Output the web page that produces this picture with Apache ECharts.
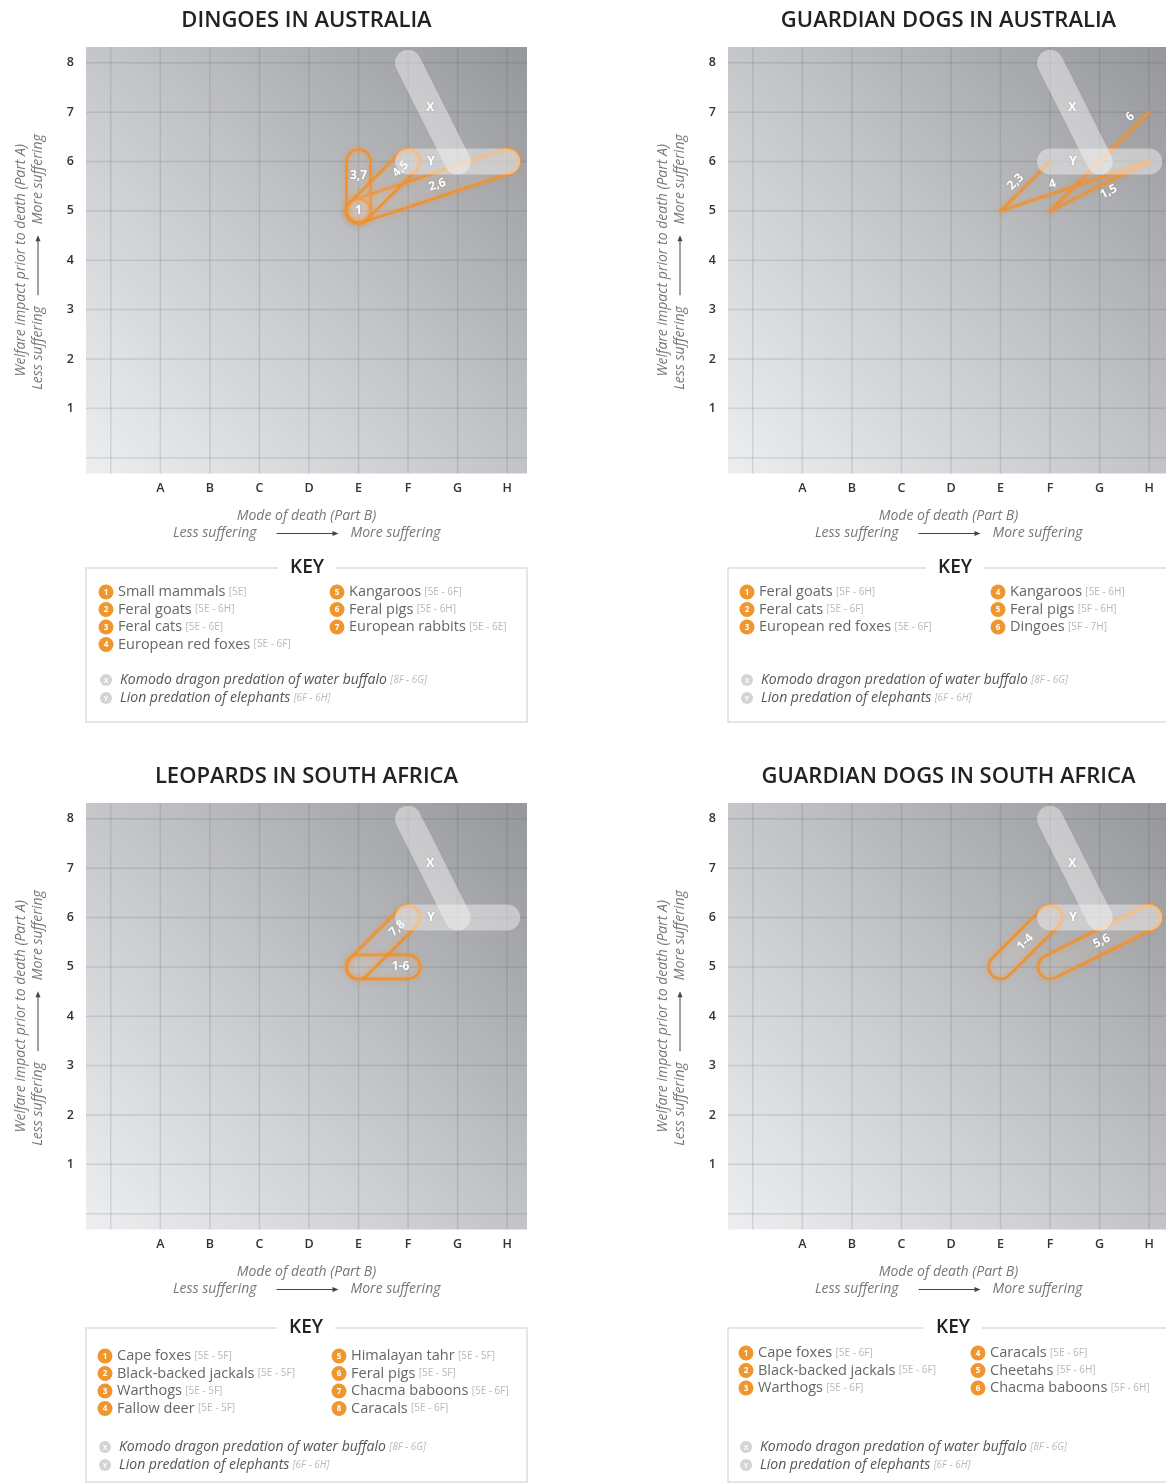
<!DOCTYPE html>
<html><head><meta charset="utf-8">
<script src="https://cdn.jsdelivr.net/npm/echarts@6/dist/echarts.min.js"></script>
<style>html,body{margin:0;padding:0;background:#fff}#c{width:1166px;height:1484px}</style>
</head><body><div id="c"></div>
<script>
// ---------- data ----------
const xLabels = ['A', 'B', 'C', 'D', 'E', 'F', 'G', 'H'];
const yLabels = ['1', '2', '3', '4', '5', '6', '7', '8'];
const gridTicks = [0, 1, 2, 3, 4, 5, 6, 7, 8];
const panelTitles = ['DINGOES IN AUSTRALIA', 'GUARDIAN DOGS IN AUSTRALIA', 'LEOPARDS IN SOUTH AFRICA', 'GUARDIAN DOGS IN SOUTH AFRICA'];

const dingoSpecies = ['Small mammals', 'Feral goats', 'Feral cats', 'European red foxes', 'Kangaroos', 'Feral pigs', 'European rabbits'];
const dingoRanges = ['5E', '5E - 6H', '5E - 6E', '5E - 6F', '5E - 6F', '5E - 6H', '5E - 6E'];

const gdAusSpecies = ['Feral goats', 'Feral cats', 'European red foxes', 'Kangaroos', 'Feral pigs', 'Dingoes'];
const gdAusRanges = ['5F - 6H', '5E - 6F', '5E - 6F', '5E - 6H', '5F - 6H', '5F - 7H'];

const leopardSpecies = ['Cape foxes', 'Black-backed jackals', 'Warthogs', 'Fallow deer', 'Himalayan tahr', 'Feral pigs', 'Chacma baboons', 'Caracals'];
const leopardRanges = ['5E - 5F', '5E - 5F', '5E - 5F', '5E - 5F', '5E - 5F', '5E - 5F', '5E - 6F', '5E - 6F'];

const gdSaSpecies = ['Cape foxes', 'Black-backed jackals', 'Warthogs', 'Caracals', 'Cheetahs', 'Chacma baboons'];
const gdSaRanges = ['5E - 6F', '5E - 6F', '5E - 6F', '5E - 6F', '5F - 6H', '5F - 6H'];

const refCodes = ['X', 'Y'];
const refNames = ['Komodo dragon predation of water buffalo', 'Lion predation of elephants'];
const refRanges = ['8F - 6G', '6F - 6H'];

// ---------- layout / style (not data) ----------
const ORANGE = '#EE9234';
const FONT = '"Open Sans", "Noto Sans", sans-serif';
const panelLayout = [
  { left: 86, top: 47, keyTop: 568, rowTop: 592, col1: 106, col2: 337, refTop: 680, keyX: 307, kind: 'capsule' },
  { left: 728, top: 47, keyTop: 568, rowTop: 592, col1: 747, col2: 998, refTop: 680, keyX: 955, kind: 'line' },
  { left: 86, top: 803, keyTop: 1328, rowTop: 1356, col1: 105, col2: 339, refTop: 1447, keyX: 306, kind: 'capsule' },
  { left: 728, top: 803, keyTop: 1328, rowTop: 1353, col1: 746, col2: 978, refTop: 1447, keyX: 953, kind: 'capsule' }
];
const GW = 441, GH = 426.5;
// label placement along each group segment: [fraction, perpendicular offset px]
const labelPlace = [
  [[0, 0], [0.53, 0], [0.72, 0], [0.85, 0]],
  [[0.55, -9], [0.445, 10], [0.368, 9], [0.88, 10]],
  [[0.85, 0], [0.78, 0]],
  [[0.5, 0], [0.52, 0]]
];
const refPlace = [[0.45, 0], [0.23, 0]];

// ---------- helpers ----------
function parseCode(c) {
  c = c.trim();
  const y = parseInt(c, 10);
  const x = xLabels.indexOf(c.replace(/[0-9]/g, '')) + 1;
  return [x, y];
}
function parseRange(r) {
  const parts = r.split(' - ');
  const a = parseCode(parts[0]);
  const b = parseCode(parts[parts.length - 1]);
  return [a[0], a[1], b[0], b[1]];
}
function groupLabel(nums) {
  let consec = nums.length > 2;
  for (let i = 1; i < nums.length; i++) if (nums[i] !== nums[i - 1] + 1) consec = false;
  return consec ? nums[0] + '-' + nums[nums.length - 1] : nums.join(',');
}
function makeGroups(ranges) {
  const order = [], map = {};
  ranges.forEach((r, i) => {
    if (!map[r]) { map[r] = []; order.push(r); }
    map[r].push(i + 1);
  });
  return order.map(r => ({ range: r, coords: parseRange(r), label: groupLabel(map[r]) }));
}
function capsulePoints(p1, p2, r) {
  const ang = Math.atan2(p2[1] - p1[1], p2[0] - p1[0]);
  const pts = [], n = 18;
  for (let i = 0; i <= n; i++) { const a = ang - Math.PI / 2 + Math.PI * i / n; pts.push([p2[0] + r * Math.cos(a), p2[1] + r * Math.sin(a)]); }
  for (let i = 0; i <= n; i++) { const a = ang + Math.PI / 2 + Math.PI * i / n; pts.push([p1[0] + r * Math.cos(a), p1[1] + r * Math.sin(a)]); }
  return pts;
}
function labelEl(p1, p2, text, place, rotate) {
  const dx = p2[0] - p1[0], dy = p2[1] - p1[1];
  const len = Math.sqrt(dx * dx + dy * dy);
  let x = p1[0] + dx * place[0], y = p1[1] + dy * place[0];
  let rot = 0;
  if (len > 1) {
    x += place[1] * dy / len; y += place[1] * (-dx) / len;
    const ang = Math.atan2(dy, dx);
    if (rotate && Math.abs(Math.abs(ang) - Math.PI / 2) > 0.35) rot = -ang;
  }
  return {
    type: 'text', x: x, y: y, rotation: rot, z2: 10,
    style: { text: text, fill: '#fff', font: 'bold 12px ' + FONT, align: 'center', verticalAlign: 'middle',
      textShadowColor: 'rgba(0,0,0,0.18)', textShadowBlur: 2 }
  };
}

const panelSpecies = [dingoSpecies, gdAusSpecies, leopardSpecies, gdSaSpecies];
const panelRanges = [dingoRanges, gdAusRanges, leopardRanges, gdSaRanges];
const refCoords = refRanges.map(parseRange);

const grids = [], xAxes = [], yAxes = [], series = [], graphics = [];
const nameStyle = { fontStyle: 'italic', color: '#777', fontFamily: FONT, fontSize: 14 };

panelLayout.forEach((L, i) => {
  const groups = makeGroups(panelRanges[i]);
  grids.push({
    left: L.left, top: L.top, width: GW, height: GH, show: true, borderWidth: 0, borderColor: 'transparent',
    outerBoundsMode: 'none', containLabel: false,
    backgroundColor: { type: 'linear', x: 0, y: 1, x2: 1, y2: 0,
      colorStops: [{ offset: 0, color: '#eceef0' }, { offset: 0.5, color: '#c3c5c8' }, { offset: 1, color: '#96979a' }] }
  });
  xAxes.push({
    gridIndex: i, type: 'value', min: -0.5, max: 8.4, splitNumber: 9, minInterval: 1, maxInterval: 1,
    axisLine: { show: false }, axisTick: { show: false }, splitLine: { show: false },
    axisLabel: { margin: 8, color: '#333', fontFamily: FONT, fontWeight: 600, fontSize: 12.5,
      formatter: v => (Number.isInteger(v) && v >= 1 && v <= 8) ? xLabels[v - 1] : '' },
    name: 'Mode of death (Part B)', nameLocation: 'middle', nameGap: 36, nameTextStyle: nameStyle
  });
  yAxes.push({
    gridIndex: i, type: 'value', min: -0.32, max: 8.32, splitNumber: 9, minInterval: 1, maxInterval: 1,
    axisLine: { show: false }, axisTick: { show: false }, splitLine: { show: false },
    axisLabel: { margin: 12, color: '#333', fontFamily: FONT, fontWeight: 600, fontSize: 12.5,
      formatter: v => (Number.isInteger(v) && v >= 1 && v <= 8) ? yLabels[v - 1] : '' },
    name: 'Welfare impact prior to death (Part A)', nameLocation: 'middle', nameGap: 58, nameRotate: 90,
    nameTextStyle: nameStyle
  });

  // grid lines
  series.push({
    type: 'custom', xAxisIndex: i, yAxisIndex: i, silent: true, z: 1,
    data: gridTicks.map(t => [t]),
    renderItem: (params, api) => {
      const t = api.value(0), cs = params.coordSys;
      const px = api.coord([t, 0])[0], py = api.coord([0, t])[1];
      const st = { stroke: 'rgba(70,75,85,0.15)', lineWidth: 1.5 };
      return { type: 'group', children: [
        { type: 'line', shape: { x1: px, y1: cs.y, x2: px, y2: cs.y + cs.height }, style: st },
        { type: 'line', shape: { x1: cs.x, y1: py, x2: cs.x + cs.width, y2: py }, style: st }
      ] };
    }
  });

  // species marks
  series.push({
    type: 'custom', xAxisIndex: i, yAxisIndex: i, silent: true, z: 3,
    encode: { x: [0, 2], y: [1, 3] },
    data: groups.map(g => g.coords),
    renderItem: (params, api) => {
      const p1 = api.coord([api.value(0), api.value(1)]);
      const p2 = api.coord([api.value(2), api.value(3)]);
      const g = groups[params.dataIndex];
      const pl = labelPlace[i][params.dataIndex];
      const children = [];
      if (L.kind === 'line') {
        children.push({ type: 'line', shape: { x1: p1[0], y1: p1[1], x2: p2[0], y2: p2[1] },
          style: { stroke: ORANGE, lineWidth: 3, opacity: 0.85, lineCap: 'round', shadowBlur: 5, shadowColor: 'rgba(240,140,40,0.6)' } });
      } else {
        children.push({ type: 'polygon', shape: { points: capsulePoints(p1, p2, 12) },
          style: { fill: 'rgba(255,255,255,0.07)', stroke: ORANGE, lineWidth: 2.6, shadowBlur: 5, shadowColor: 'rgba(240,140,40,0.55)' } });
      }
      children.push(labelEl(p1, p2, g.label, pl, true));
      return { type: 'group', children: children };
    }
  });

  // reference marks
  series.push({
    type: 'custom', xAxisIndex: i, yAxisIndex: i, silent: true, z: 4,
    encode: { x: [0, 2], y: [1, 3] },
    data: refCoords,
    renderItem: (params, api) => {
      const p1 = api.coord([api.value(0), api.value(1)]);
      const p2 = api.coord([api.value(2), api.value(3)]);
      return { type: 'group', children: [
        { type: 'polygon', shape: { points: capsulePoints(p1, p2, 13) }, style: { fill: 'rgba(246,246,246,0.45)' } },
        labelEl(p1, p2, refCodes[params.dataIndex], refPlace[params.dataIndex], false)
      ] };
    }
  });

  // ---- annotations ----
  const cx = L.left + GW / 2, cy = L.top + GH / 2;
  graphics.push({ type: 'text', x: cx, y: L.top - 26,
    style: { text: panelTitles[i], align: 'center', verticalAlign: 'middle', font: '600 22px ' + FONT, fill: '#222' } });

  // x direction line
  const ay = L.top + GH + 60;
  const it = 'italic 14px ' + FONT;
  graphics.push({ type: 'text', x: cx - 50, y: ay, style: { text: 'Less suffering', align: 'right', verticalAlign: 'middle', font: it, fill: '#777' } });
  graphics.push({ type: 'line', shape: { x1: cx - 30, y1: ay, x2: cx + 27, y2: ay }, style: { stroke: '#444', lineWidth: 1 } });
  graphics.push({ type: 'polygon', shape: { points: [[cx + 32, ay], [cx + 26, ay - 2.5], [cx + 26, ay + 2.5]] }, style: { fill: '#444' } });
  graphics.push({ type: 'text', x: cx + 44, y: ay, style: { text: 'More suffering', align: 'left', verticalAlign: 'middle', font: it, fill: '#777' } });

  // y direction line (rotated)
  graphics.push({ type: 'group', x: L.left - 48, y: cy, rotation: Math.PI / 2, children: [
    { type: 'text', x: -46, y: 0, style: { text: 'Less suffering', align: 'right', verticalAlign: 'middle', font: it, fill: '#777' } },
    { type: 'line', shape: { x1: -35, y1: 0, x2: 20, y2: 0 }, style: { stroke: '#444', lineWidth: 1 } },
    { type: 'polygon', shape: { points: [[25, 0], [19, -2.5], [19, 2.5]] }, style: { fill: '#444' } },
    { type: 'text', x: 36, y: 0, style: { text: 'More suffering', align: 'left', verticalAlign: 'middle', font: it, fill: '#777' } }
  ] });

  // key box
  graphics.push({ type: 'rect', shape: { x: L.left, y: L.keyTop, width: GW, height: 154 },
    style: { fill: '#fff', stroke: '#dedede', lineWidth: 1.5 } });
  graphics.push({ type: 'text', x: L.keyX, y: L.keyTop, z: 5,
    style: { text: 'KEY', align: 'center', verticalAlign: 'middle', font: '600 19px ' + FONT, fill: '#222',
      backgroundColor: '#fff', padding: [2, 12] } });
  const sp = panelSpecies[i], rg = panelRanges[i];
  const half = Math.ceil(sp.length / 2);
  sp.forEach((name, k) => {
    const col = k < half ? 0 : 1;
    const row = col === 0 ? k : k - half;
    const x = col === 0 ? L.col1 : L.col2;
    const y = L.rowTop + row * 17.5;
    graphics.push({ type: 'circle', shape: { cx: x, cy: y, r: 7.5 }, style: { fill: '#F0962E' } });
    graphics.push({ type: 'text', x: x, y: y + 0.5, style: { text: String(k + 1), align: 'center', verticalAlign: 'middle', font: 'bold 8px ' + FONT, fill: '#fff' } });
    graphics.push({ type: 'text', x: x + 12, y: y, style: {
      text: '{n|' + name + '} {r|[' + rg[k] + ']}', verticalAlign: 'middle', align: 'left',
      rich: { n: { font: '14.5px ' + FONT, fill: '#666' }, r: { font: '10px ' + FONT, fill: '#b8b8b8' } } } });
  });
  refNames.forEach((name, k) => {
    const x = L.col1, y = L.refTop + k * 18;
    graphics.push({ type: 'circle', shape: { cx: x, cy: y, r: 6 }, style: { fill: '#d4d4d4' } });
    graphics.push({ type: 'text', x: x, y: y + 0.5, style: { text: refCodes[k], align: 'center', verticalAlign: 'middle', font: 'bold 7px ' + FONT, fill: '#fff' } });
    graphics.push({ type: 'text', x: x + 14, y: y, style: {
      text: '{n|' + name + '} {r|[' + refRanges[k] + ']}', verticalAlign: 'middle', align: 'left',
      rich: { n: { font: 'italic 14px ' + FONT, fill: '#555' }, r: { font: 'italic 10px ' + FONT, fill: '#bbb' } } } });
  });
});

const chart = echarts.init(document.getElementById('c'), null, { renderer: 'canvas' });
chart.setOption({
  animation: false,
  backgroundColor: '#fff',
  grid: grids,
  xAxis: xAxes,
  yAxis: yAxes,
  series: series,
  graphic: { elements: graphics }
});
</script>
</body></html>
